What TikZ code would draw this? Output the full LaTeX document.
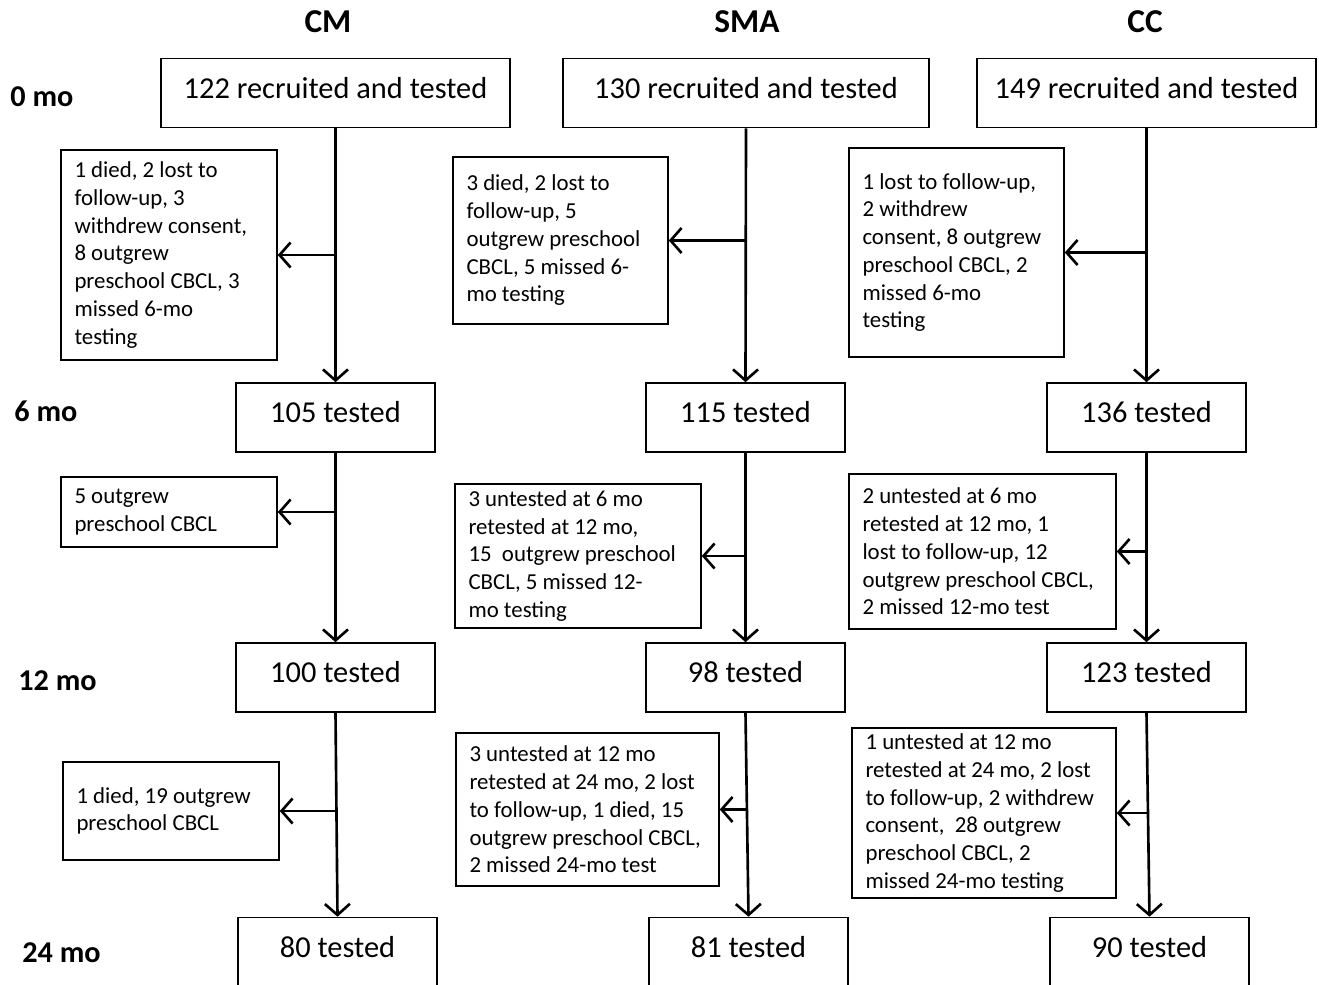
\documentclass[tikz,border=0pt]{standalone}
\usepackage{fontspec}
\setmainfont{Carlito}
\usepackage{tikz}
\usetikzlibrary{arrows.meta,calc}

\begin{document}
\begin{tikzpicture}[
                stage/.style={draw,line width=0.9pt,minimum width=3.98cm,minimum height=1.38cm,
                              inner sep=0pt,text height=0.4cm,text depth=0.19cm,
                              font=\fontsize{17.3}{20}\selectfont},
                note/.style={draw,line width=0.9pt,align=flush left,inner xsep=0.27cm,inner ysep=0pt,
                             font=\fontsize{13}{15.8}\selectfont},
                group/.style={inner sep=0pt,font=\fontsize{19}{22}\selectfont\bfseries},
                age/.style={anchor=west,inner sep=0pt,font=\fontsize{17.2}{20}\selectfont\bfseries},
                flow/.style={line width=1.5pt,-{Straight Barb[length=2.2mm,width=5mm]}}
            ]
                \useasboundingbox (0,0) rectangle (26.38,-19.70);

                \node[group] (cm) at (6.56,-0.44) {CM};
                \node[group] (sma) at (14.94,-0.44) {SMA};
                \node[group] (cc) at (22.90,-0.44) {CC};

                \node[age] (m0) at (0.20,-1.94) {0 mo};
                \node[age] (m6) at (0.28,-8.22) {6 mo};
                \node[age] (m12) at (0.36,-13.62) {12 mo};
                \node[age] (m24) at (0.44,-19.06) {24 mo};

                \node[stage,minimum width=6.98cm] (cm0) at (6.71,-1.86) {122 recruited and tested};
                \node[stage] (cm6) at (6.71,-8.35) {105 tested};
                \node[stage] (cm12) at (6.71,-13.55) {100 tested};
                \node[stage] (cm24) at (6.75,-19.04) {80 tested};

                \node[stage,minimum width=7.32cm] (sma0) at (14.92,-1.86) {130 recruited and tested};
                \node[stage] (sma6) at (14.91,-8.35) {115 tested};
                \node[stage] (sma12) at (14.91,-13.55) {98 tested};
                \node[stage] (sma24) at (14.97,-19.04) {81 tested};

                \node[stage,minimum width=6.78cm] (cc0) at (22.93,-1.86) {149 recruited and tested};
                \node[stage] (cc6) at (22.93,-8.35) {136 tested};
                \node[stage] (cc12) at (22.93,-13.55) {123 tested};
                \node[stage] (cc24) at (22.99,-19.04) {90 tested};

                \node[note,text width=3.78cm,minimum height=4.20cm] (cm-a) at (3.38,-5.10) {
                    1 died, 2 lost to\\follow-up, 3\\withdrew consent,\\8 outgrew\\
                    preschool CBCL, 3\\missed 6-mo\\testing
                };
                \node[note,text width=3.76cm,minimum height=3.34cm] (sma-a) at (11.21,-4.81) {
                    3 died, 2 lost to\\follow-up, 5\\outgrew preschool\\CBCL, 5 missed 6-\\mo testing
                };
                \node[note,text width=3.76cm,minimum height=4.18cm] (cc-a) at (19.13,-5.05) {
                    1 lost to follow-up,\\2 withdrew\\consent, 8 outgrew\\preschool CBCL, 2\\
                    missed 6-mo\\testing
                };

                \node[note,text width=3.78cm,minimum height=1.40cm] (cm-b) at (3.38,-10.24) {
                    5 outgrew\\preschool CBCL
                };
                \node[note,text width=4.38cm,minimum height=2.88cm] (sma-b) at (11.56,-11.12) {
                    3 untested at 6 mo\\retested at 12 mo,\\15~ outgrew preschool\\
                    CBCL, 5 missed 12-\\mo testing
                };
                \node[note,text width=4.80cm,minimum height=3.10cm] (cc-b) at (19.65,-11.03) {
                    2 untested at 6 mo\\retested at 12 mo, 1\\lost to follow-up, 12\\
                    outgrew preschool CBCL,\\2 missed 12-mo test
                };

                \node[note,text width=3.78cm,minimum height=1.96cm] (cm-c) at (3.42,-16.22) {
                    1 died, 19 outgrew\\preschool CBCL
                };
                \node[note,text width=4.72cm,minimum height=3.06cm] (sma-c) at (11.75,-16.19) {
                    3 untested at 12 mo\\retested at 24 mo, 2 lost\\to follow-up, 1 died, 15\\
                    outgrew preschool CBCL,\\2 missed 24-mo test
                };
                \node[note,text width=4.74cm,minimum height=3.40cm] (cc-c) at (19.68,-16.26) {
                    1 untested at 12 mo\\retested at 24 mo, 2 lost\\to follow-up, 2 withdrew\\
                    consent,~ 28 outgrew\\preschool CBCL, 2\\missed 24-mo testing
                };

                \foreach \g in {cm,sma,cc}{
                    \draw[flow] (\g0.south) -- (\g6.north);
                    \draw[flow] (\g6.south) -- (\g12.north);
                    \draw[flow] (\g12.south) -- (\g24.north);
                    \draw[flow] (\g0.south |- \g-a.east) -- (\g-a.east);
                    \draw[flow] (\g6.south |- \g-b.east) -- (\g-b.east);
                    \draw[flow] (\g12.south |- \g-c.east) -- (\g-c.east);
                }
            \end{tikzpicture}
\end{document}
